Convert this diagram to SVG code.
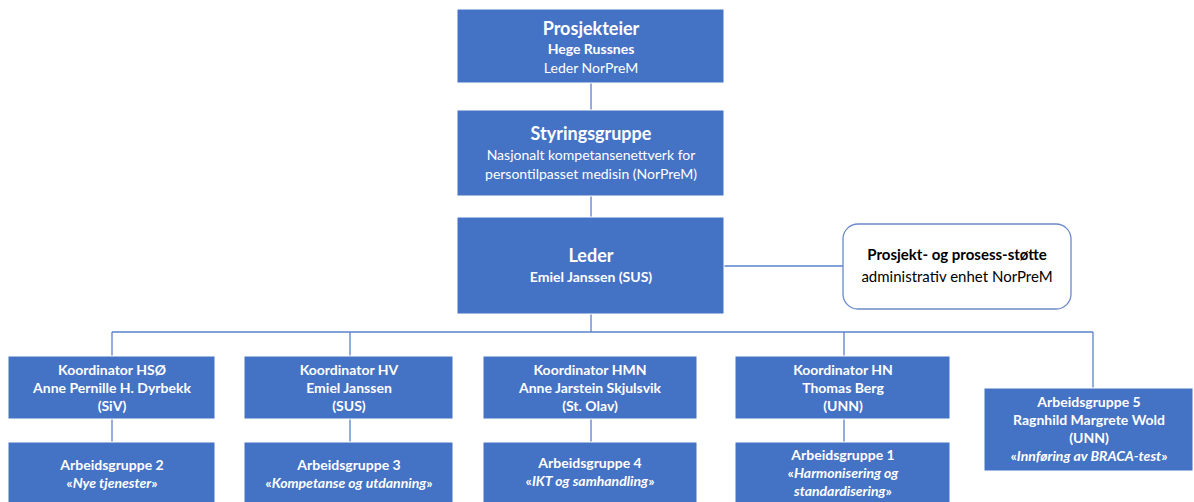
<svg xmlns="http://www.w3.org/2000/svg" width="1194" height="502" viewBox="0 0 1194 502">
<style>
.b{fill:#4472C4;stroke:#ffffff;stroke-width:1}
.s{fill:#ffffff;stroke:#6A8AC8;stroke-width:1.3}
.c{fill:none;stroke:#5A82CA;stroke-width:1.3}
text{font-family:Lato,"Liberation Sans",sans-serif;text-anchor:middle;fill:#ffffff;font-size:14px}
.t{font-size:18px;font-weight:bold}
.bd{font-weight:bold}
.i{font-style:italic;font-weight:bold}
.k{fill:#000000;font-size:15px}
</style>
<rect width="1194" height="502" fill="#ffffff"/>
<g id="connectors">
<path class="c" d="M591 83V110M591 196V217M591 314V332M112 332H1093M112 332V356M350 332V356M844 332V356M1093 332V388M724 266H843M112 419V442M350 419V442M591 419V442M844 419V442"/>
</g>
<g id="prosjekteier">
<rect class="b" x="457" y="9" width="267" height="74"/>
<text x="591" y="35" class="t">Prosjekteier</text>
<text x="591" y="54" class="bd">Hege Russnes</text>
<text x="591" y="73">Leder NorPreM</text>
</g>
<g id="styringsgruppe">
<rect class="b" x="457" y="110" width="267" height="86"/>
<text x="591" y="140" class="t">Styringsgruppe</text>
<text x="591" y="160">Nasjonalt kompetansenettverk for</text>
<text x="591" y="179">persontilpasset medisin (NorPreM)</text>
</g>
<g id="leder">
<rect class="b" x="457" y="217" width="267" height="97"/>
<text x="591" y="262" class="t">Leder</text>
<text x="591" y="282" class="bd">Emiel Janssen (SUS)</text>
</g>
<g id="stotte">
<rect class="s" x="843" y="224" width="228" height="85" rx="15"/>
<text x="957" y="260" class="bd k">Prosjekt- og prosess-støtte</text>
<text x="957" y="282" class="k">administrativ enhet NorPreM</text>
</g>
<g id="koord-hso">
<rect class="b" x="8" y="356" width="207" height="63"/>
<text x="112" y="375" class="bd">Koordinator HSØ</text>
<text x="112" y="393" class="bd">Anne Pernille H. Dyrbekk</text>
<text x="112" y="411" class="bd">(SiV)</text>
</g>
<g id="koord-hv">
<rect class="b" x="244" y="356" width="209" height="63"/>
<text x="349" y="375" class="bd">Koordinator HV</text>
<text x="349" y="393" class="bd">Emiel Janssen</text>
<text x="349" y="411" class="bd">(SUS)</text>
</g>
<g id="koord-hmn">
<rect class="b" x="483" y="356" width="214" height="63"/>
<text x="590" y="375" class="bd">Koordinator HMN</text>
<text x="590" y="393" class="bd">Anne Jarstein Skjulsvik</text>
<text x="590" y="411" class="bd">(St. Olav)</text>
</g>
<g id="koord-hn">
<rect class="b" x="735" y="356" width="215" height="63"/>
<text x="843" y="375" class="bd">Koordinator HN</text>
<text x="843" y="393" class="bd">Thomas Berg</text>
<text x="843" y="411" class="bd">(UNN)</text>
</g>
<g id="ag5">
<rect class="b" x="984" y="388" width="209" height="83"/>
<text x="1089" y="407" class="bd">Arbeidsgruppe 5</text>
<text x="1089" y="425" class="bd">Ragnhild Margrete Wold</text>
<text x="1089" y="443" class="bd">(UNN)</text>
<text x="1089" y="461" class="bd">«<tspan class="i">Innføring av BRACA-test</tspan>»</text>
</g>
<g id="ag2">
<rect class="b" x="8" y="442" width="207" height="70"/>
<text x="112" y="470" class="bd">Arbeidsgruppe 2</text>
<text x="112" y="488" class="bd">«<tspan class="i">Nye tjenester</tspan>»</text>
</g>
<g id="ag3">
<rect class="b" x="244" y="442" width="209" height="70"/>
<text x="349" y="470" class="bd">Arbeidsgruppe 3</text>
<text x="349" y="488" class="bd">«<tspan class="i">Kompetanse og utdanning</tspan>»</text>
</g>
<g id="ag4">
<rect class="b" x="483" y="442" width="214" height="70"/>
<text x="590" y="468" class="bd">Arbeidsgruppe 4</text>
<text x="590" y="486" class="bd">«<tspan class="i">IKT og samhandling</tspan>»</text>
</g>
<g id="ag1">
<rect class="b" x="735" y="442" width="215" height="70"/>
<text x="843" y="460" class="bd">Arbeidsgruppe 1</text>
<text x="843" y="478" class="bd">«<tspan class="i">Harmonisering og</tspan></text>
<text x="843" y="496" class="bd"><tspan class="i">standardisering</tspan>»</text>
</g>
</svg>
